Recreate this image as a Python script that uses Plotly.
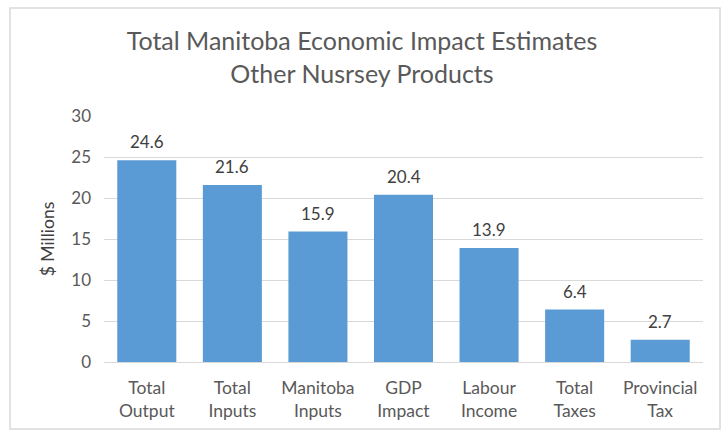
import plotly.graph_objects as go

# Economic impact estimates ($ millions)
categories = ["Total<br>Output", "Total<br>Inputs", "Manitoba<br>Inputs", "GDP<br>Impact",
              "Labour<br>Income", "Total<br>Taxes", "Provincial<br>Tax"]
values = [24.6, 21.6, 15.9, 20.4, 13.9, 6.4, 2.7]
y_ticks = [0, 5, 10, 15, 20, 25, 30]

FONT = "Lato, Calibri, sans-serif"
TEXT = "#595959"
BAR = "#5B9BD5"
GRID = "#D9D9D9"

fig = go.Figure(
    go.Bar(
        x=categories,
        y=values,
        marker=dict(color=BAR, line=dict(width=0)),
        width=0.69,
        hoverinfo="x+y",
    )
)

# value labels above each bar
for cat, v in zip(categories, values):
    fig.add_annotation(
        x=cat, y=v, xref="x", yref="y",
        text=f"{v:.1f}",
        showarrow=False,
        yanchor="bottom",
        yshift=6,
        font=dict(family=FONT, size=17, color="#404040"),
    )

fig.update_layout(
    width=724,
    height=435,
    margin=dict(l=104, r=21, t=116, b=73),
    paper_bgcolor="white",
    plot_bgcolor="white",
    showlegend=False,
    bargap=0.31,
    title=dict(
        text="Total Manitoba Economic Impact Estimates<br>Other Nusrsey Products",
        x=0.5,
        xref="container",
        xanchor="center",
        y=1 - 50 / 435,
        yanchor="top",
        yref="container",
        font=dict(family=FONT, size=25, color=TEXT),
        pad=dict(t=0, b=0),
    ),
    font=dict(family=FONT, color=TEXT),
    shapes=[
        dict(
            type="rect",
            xref="paper", yref="paper",
            x0=(10 - 104) / 599, x1=(720 - 104) / 599,
            y0=(362 - 429) / 246, y1=(362 - 8) / 246,
            line=dict(color=GRID, width=1.5),
            fillcolor="rgba(0,0,0,0)",
            layer="below",
        )
    ],
)

fig.update_xaxes(
    showgrid=False,
    showline=True,
    linecolor=GRID,
    linewidth=1,
    ticks="",
    ticklabelstandoff=10,
    tickfont=dict(family=FONT, size=17.5, color=TEXT),
)

fig.update_yaxes(
    range=[0, 30],
    tickvals=y_ticks,
    showgrid=True,
    gridcolor=GRID,
    gridwidth=1,
    zeroline=False,
    showline=False,
    ticks="",
    ticklabelstandoff=12,
    tickfont=dict(family=FONT, size=17, color=TEXT),
    title=dict(text="$ Millions", font=dict(family=FONT, size=17.5, color="#404040"), standoff=12),
)

fig.write_html("out.html")
